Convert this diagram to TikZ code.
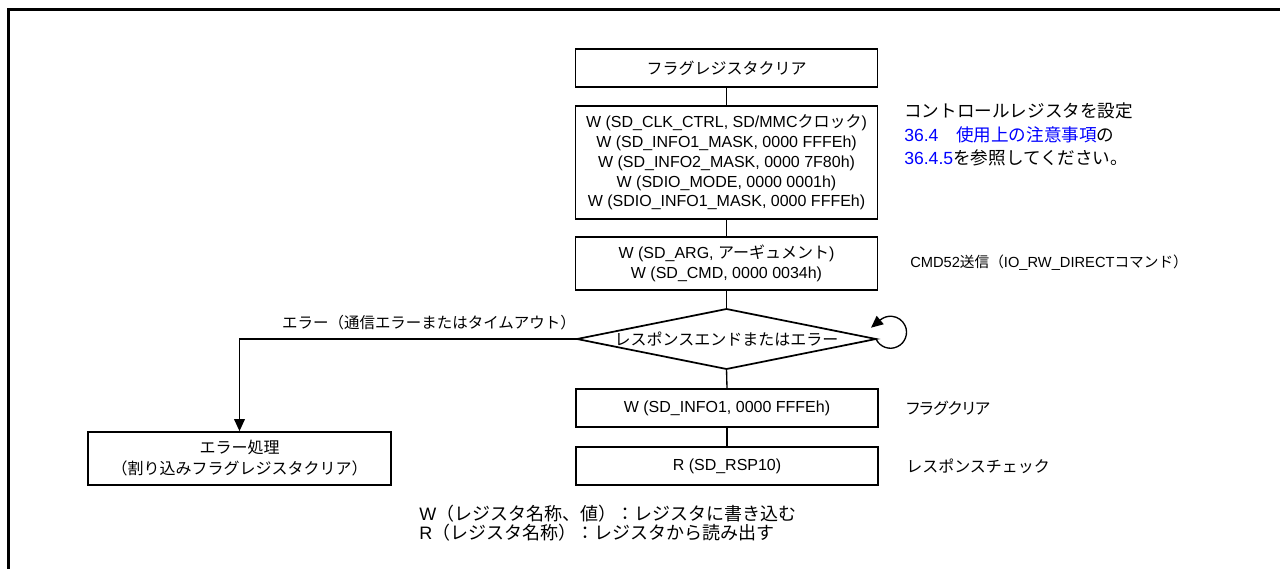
\documentclass[tikz,border=0pt]{standalone}
\usepackage{fontspec}
\setmainfont{Liberation Sans}
\newfontfamily\jp{Noto Sans CJK JP}
\newfontfamily\jpp[RawFeature=+palt]{Noto Sans CJK JP}
\usetikzlibrary{arrows.meta}
\definecolor{linkblue}{RGB}{0,0,255}
\begin{document}
\begin{tikzpicture}[x=0.75pt,y=-0.75pt,
  box/.style={draw, line width=1.3pt, inner sep=0pt, minimum width=226.5pt, align=center, font=\fontsize{12}{14.8}\selectfont},
  conn/.style={line width=1pt},
  arr/.style={line width=1pt,-{Triangle[length=9pt,width=8pt]}},
  lbl/.style={inner sep=0pt, align=left}]
\useasboundingbox (0,0) rectangle (1280,568);
\draw[line width=2.25pt] (8.5,590) -- (8.5,9.5) -- (1300,9.5);

% main column
\node[box, minimum height=28.5pt, font=\jp\fontsize{12}{14.8}\selectfont] (b1) at (726.5,68) {フラグレジスタクリア};
\node[box, minimum height=84.75pt] (b2) at (726.5,162.5) {W (SD\_CLK\_CTRL, SD/MMC{\jp クロック})\\W (SD\_INFO1\_MASK, 0000 FFFEh)\\W (SD\_INFO2\_MASK, 0000 7F80h)\\W (SDIO\_MODE, 0000 0001h)\\W (SDIO\_INFO1\_MASK, 0000 FFFEh)};
\node[box, minimum height=39.75pt] (b3) at (726.5,263.5) {W (SD\_ARG, {\jp アーギュメント})\\W (SD\_CMD, 0000 0034h)};

% decision
\coordinate (dT) at (726.5,309);
\coordinate (dB) at (726.5,369);
\coordinate (dL) at (577,339);
\coordinate (dR) at (876,339);
\draw[line width=1.3pt] (dT) -- (dR) -- (dB) -- (dL) -- cycle;
\node[inner sep=0pt, font=\jp\fontsize{12}{14}\selectfont] (dtext) at (726.5,339) {レスポンスエンドまたはエラー};

\node[box, minimum height=28.5pt] (b4) at (727,408) {W (SD\_INFO1, 0000 FFFEh)};
\node[box, minimum height=28.5pt] (b5) at (727,466) {R (SD\_RSP10)};

\node[box, minimum width=227.25pt, minimum height=39.75pt, font=\jp\fontsize{12}{15.8}\selectfont] (err) at (239.5,458.5) {エラー処理\\（割り込みフラグレジスタクリア）};

% connectors
\draw[conn] (b1.south) -- (b2.north);
\draw[conn] (b2.south) -- (b3.north);
\draw[conn] (b3.south) -- (dT);
\draw[conn] (dB) -- (b4.north);
\draw[conn] (b4.south) -- (b5.north);
\coordinate (eC) at (err.north |- dL);
\draw[arr] (dL) -- (eC) -- (err.north);
\draw[arr] (dR) arc[start angle=205, end angle=490, radius=12pt] -- ++(-6.9pt,-5.8pt);

% labels
\node[lbl, font=\jp\fontsize{11.6}{14}\selectfont] (elbl) at (429,323) {エラー（通信エラーまたはタイムアウト）};
\node[lbl, anchor=west, font=\fontsize{13.2}{17.8}\selectfont] (note) at (904,134.5) {{\jp コントロールレジスタを設定}\\\textcolor{linkblue}{36.4{\jp 　使用上の注意事項}}{\jp の}\\\textcolor{linkblue}{36.4.5}{\jp を参照してください。}};
\node[lbl, anchor=west, font=\fontsize{11}{13}\selectfont] (cmd) at (910,263) {CMD52{\jp 送信（}IO\_RW\_DIRECT{\jp コマンド）}};
\node[lbl, anchor=west, font=\jpp\fontsize{12}{14}\selectfont] (fc) at (906,408) {フラグクリア};
\node[lbl, anchor=west, font=\jp\fontsize{12}{14}\selectfont] (rc) at (906,466) {レスポンスチェック};
\node[lbl, anchor=west, font=\fontsize{13.5}{14.25}\selectfont] (leg) at (419,523.5) {W{\jp（レジスタ名称、値）：レジスタに書き込む}\\R{\jp（レジスタ名称）：レジスタから読み出す}};
\end{tikzpicture}
\end{document}
